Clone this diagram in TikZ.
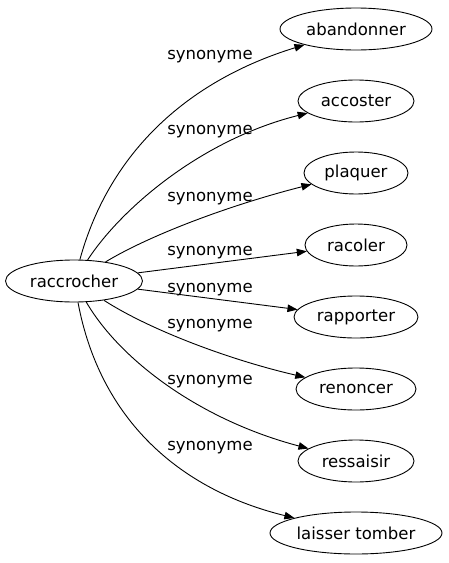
\documentclass[tikz,border=0pt]{standalone}
\usepackage{fontspec}
\setmainfont{DejaVu Sans}
\usetikzlibrary{arrows.meta,shapes.geometric}
\begin{document}
\begin{tikzpicture}[x=1pt,y=-1pt,
  every node/.style={font=\fontsize{16.5}{20}\selectfont},
  wnode/.style={draw,ellipse,line width=0.9pt,minimum height=42pt,inner sep=0pt},
  lab/.style={inner sep=0pt},
  syn/.style={line width=0.9pt,-{Triangle[length=10pt,width=7.5pt]}}]
\useasboundingbox (0,0) rectangle (448,563);
\node[wnode,minimum width=137pt] (r) at (74,281) {raccrocher};
\node[wnode,minimum width=152pt] (a1) at (356,29) {abandonner};
\node[wnode,minimum width=116pt] (a2) at (356,101) {accoster};
\node[wnode,minimum width=104pt] (a3) at (356,173) {plaquer};
\node[wnode,minimum width=102pt] (a4) at (356,245) {racoler};
\node[wnode,minimum width=124pt] (a5) at (356,317) {rapporter};
\node[wnode,minimum width=120pt] (a6) at (356,389) {renoncer};
\node[wnode,minimum width=116pt] (a7) at (356,461) {ressaisir};
\node[wnode,minimum width=172pt] (a8) at (356,533) {laisser tomber};
\node[lab] (l1) at (210,57) {synonyme};
\node[lab] (l2) at (210,132) {synonyme};
\node[lab] (l3) at (210,199) {synonyme};
\node[lab] (l4) at (210,253) {synonyme};
\node[lab] (l5) at (210,290) {synonyme};
\node[lab] (l6) at (210,326) {synonyme};
\node[lab] (l7) at (210,382) {synonyme};
\node[lab] (l8) at (210,448) {synonyme};
\draw[syn] (r) .. controls (110,150) and (190,80) .. (a1);
\draw[syn] (r) .. controls (120,210) and (200,140) .. (a2);
\draw[syn] (r) .. controls (150,235) and (230,205) .. (a3);
\draw[syn] (r) -- (a4);
\draw[syn] (r) -- (a5);
\draw[syn] (r) .. controls (150,330) and (230,360) .. (a6);
\draw[syn] (r) .. controls (120,360) and (200,420) .. (a7);
\draw[syn] (r) .. controls (100,420) and (180,490) .. (a8);
\end{tikzpicture}
\end{document}
